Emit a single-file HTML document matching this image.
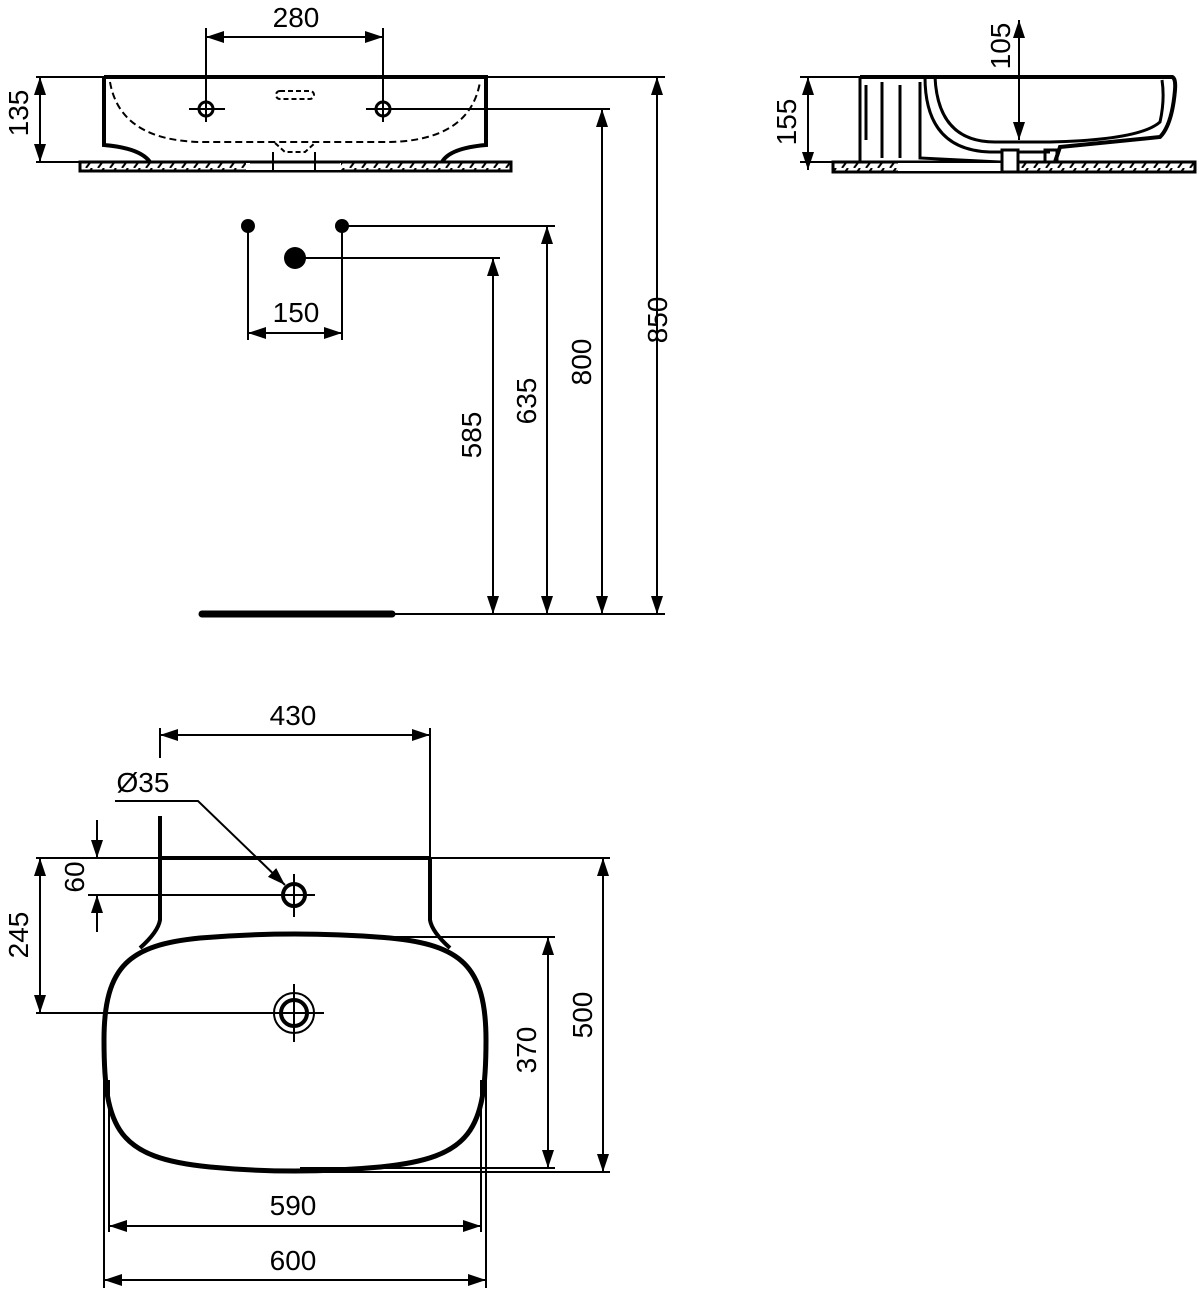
<!DOCTYPE html>
<html><head><meta charset="utf-8"><style>
html,body{margin:0;padding:0;background:#fff;}
svg{display:block}
text{font-family:"Liberation Sans",sans-serif;font-size:28px;fill:#000;}
</style></head><body>
<svg width="1200" height="1290" viewBox="0 0 1200 1290" xmlns="http://www.w3.org/2000/svg">
<defs>
<marker id="a" viewBox="0 0 18 12" refX="18" refY="6" markerWidth="18" markerHeight="12" markerUnits="userSpaceOnUse" orient="auto-start-reverse">
<path d="M0,0 L18,6 L0,12 Z" fill="#000"/></marker>
<pattern id="h" width="12" height="8" patternUnits="userSpaceOnUse">
<rect width="12" height="8" fill="#fff"/><path d="M2,8 L8,0" stroke="#000" stroke-width="2"/></pattern>
</defs>
<g stroke="#000" fill="none" stroke-width="2">
<!-- TOP FRONT VIEW -->
<line x1="36" y1="77" x2="104" y2="77"/>
<line x1="486" y1="77" x2="665" y2="77"/>
<line x1="36" y1="162" x2="80" y2="162"/>
<path d="M104,77 L486,77 L486,145 Q450,148 442,162 M104,77 L104,145 Q140,148 150,162" stroke-width="4"/>
<path d="M110,82 Q120,140 200,142 L390,142 Q470,140 480,82" stroke-dasharray="7,4" stroke-width="2"/>
<path d="M275,143 L285,152 L305,152 L315,143" stroke-dasharray="5,3"/>
<rect x="276" y="91" width="38" height="8" rx="4" stroke-dasharray="5,3"/>
<rect x="80" y="162" width="431" height="9" fill="url(#h)" stroke-width="3"/>
<rect x="246" y="163" width="95" height="7" fill="#fff" stroke="none"/>
<line x1="273" y1="152" x2="273" y2="171"/><line x1="315" y1="152" x2="315" y2="171"/>
<line x1="250" y1="162" x2="340" y2="162" stroke-width="3"/>
<circle cx="206" cy="109" r="7" stroke-width="3"/><circle cx="383" cy="109" r="7" stroke-width="3"/>
<line x1="189" y1="109" x2="225" y2="109"/><line x1="366" y1="109" x2="610" y2="109"/>
<line x1="206" y1="28" x2="206" y2="122"/><line x1="383" y1="28" x2="383" y2="122"/>
<line x1="206" y1="37" x2="383" y2="37" marker-start="url(#a)" marker-end="url(#a)"/>
<line x1="40" y1="77" x2="40" y2="162" marker-start="url(#a)" marker-end="url(#a)"/>
<line x1="657" y1="77" x2="657" y2="614" marker-start="url(#a)" marker-end="url(#a)"/>
<line x1="602" y1="109" x2="602" y2="614" marker-start="url(#a)" marker-end="url(#a)"/>
<line x1="547" y1="226" x2="547" y2="614" marker-start="url(#a)" marker-end="url(#a)"/>
<line x1="493" y1="258" x2="493" y2="614" marker-start="url(#a)" marker-end="url(#a)"/>
<line x1="342" y1="226" x2="555" y2="226"/>
<line x1="295" y1="258" x2="500" y2="258"/>
<line x1="248" y1="226" x2="248" y2="340"/><line x1="342" y1="226" x2="342" y2="340"/>
<line x1="248" y1="333" x2="342" y2="333" marker-start="url(#a)" marker-end="url(#a)"/>
<line x1="390" y1="614" x2="665" y2="614"/>
<line x1="202" y1="614" x2="392" y2="614" stroke-width="7" stroke-linecap="round"/>
<!-- SIDE VIEW -->
<line x1="800" y1="77" x2="860" y2="77"/>
<line x1="800" y1="162" x2="835" y2="162"/>
<line x1="808" y1="77" x2="808" y2="170" marker-start="url(#a)" marker-end="url(#a)"/>
<path d="M860,77 L1172,77 Q1176,78 1175,90 Q1172,125 1160,137 L1060,147 L1055,162" stroke-width="4"/>
<path d="M935,77 Q938,142 995,142 L1050,142 Q1140,140 1160,122 Q1165,100 1162,80" stroke-width="3"/>
<path d="M925,77 Q925,150 990,152 L1050,152" stroke-width="3"/>
<path d="M860,77 L860,162 M866,85 L866,140 M882,82 L882,158 M900,85 L900,158 M920,82 L920,158 L1000,162" stroke-width="3"/>
<rect x="833" y="162" width="362" height="10" fill="url(#h)" stroke-width="3"/>
<rect x="898" y="163" width="120" height="8" fill="#fff" stroke="none"/>
<rect x="1002" y="150" width="16" height="22" fill="#fff" stroke-width="3"/>
<rect x="1045" y="150" width="12" height="12" stroke-width="3"/>
<line x1="1019" y1="20" x2="1019" y2="140" marker-start="url(#a)" marker-end="url(#a)"/>
<!-- PLAN VIEW -->
<line x1="160" y1="728" x2="160" y2="758"/>
<line x1="430" y1="728" x2="430" y2="858"/>
<line x1="160" y1="735" x2="430" y2="735" marker-start="url(#a)" marker-end="url(#a)"/>
<line x1="36" y1="858" x2="610" y2="858"/>
<line x1="160" y1="858" x2="430" y2="858" stroke-width="4"/>
<path d="M160,816 L160,920 Q158,932 140,948 M430,858 L430,920 Q432,932 450,948" stroke-width="4"/>
<path d="M115,801 L198,801 L285,885" marker-end="url(#a)"/>
<line x1="97" y1="820" x2="97" y2="858" marker-end="url(#a)"/>
<line x1="97" y1="932" x2="97" y2="895" marker-end="url(#a)"/>
<line x1="88" y1="895" x2="315" y2="895"/>
<circle cx="294" cy="895" r="11" stroke-width="4"/>
<line x1="294" y1="874" x2="294" y2="917"/>
<line x1="40" y1="1013" x2="40" y2="858" marker-end="url(#a)"/>
<line x1="40" y1="858" x2="40" y2="1013" marker-end="url(#a)"/>
<line x1="36" y1="1013" x2="324" y2="1013"/>
<path d="M104,1040 C104,965 130,945 200,938 Q295,930 390,938 C460,945 486,965 486,1040 C486,1130 472,1158 380,1167 Q295,1175 210,1167 C118,1158 104,1130 104,1040 Z" stroke-width="5"/>
<circle cx="294" cy="1013" r="20" stroke-width="2"/>
<circle cx="294" cy="1013" r="13" stroke-width="4"/>
<line x1="294" y1="984" x2="294" y2="1042"/>
<line x1="390" y1="937" x2="555" y2="937"/>
<line x1="300" y1="1168" x2="555" y2="1168"/>
<line x1="300" y1="1172" x2="610" y2="1172"/>
<line x1="548" y1="937" x2="548" y2="1168" marker-start="url(#a)" marker-end="url(#a)"/>
<line x1="603" y1="858" x2="603" y2="1172" marker-start="url(#a)" marker-end="url(#a)"/>
<line x1="104" y1="1060" x2="104" y2="1288"/><line x1="486" y1="1060" x2="486" y2="1288"/>
<line x1="109" y1="1080" x2="109" y2="1232"/><line x1="481" y1="1080" x2="481" y2="1232"/>
<line x1="109" y1="1226" x2="481" y2="1226" marker-start="url(#a)" marker-end="url(#a)"/>
<line x1="104" y1="1280" x2="486" y2="1280" marker-start="url(#a)" marker-end="url(#a)"/>
</g>
<circle cx="248" cy="226" r="7"/><circle cx="342" cy="226" r="7"/><circle cx="295" cy="258" r="11"/>
<g text-anchor="middle">
<text x="296" y="27">280</text>
<text x="296" y="322">150</text>
<text x="293" y="725">430</text>
<text x="143" y="792">Ø35</text>
<text x="293" y="1215">590</text>
<text x="293" y="1270">600</text>
<text transform="translate(28,113) rotate(-90)">135</text>
<text transform="translate(667,320) rotate(-90)">850</text>
<text transform="translate(591,362) rotate(-90)">800</text>
<text transform="translate(536,401) rotate(-90)">635</text>
<text transform="translate(481,435) rotate(-90)">585</text>
<text transform="translate(796,122) rotate(-90)">155</text>
<text transform="translate(1010,46) rotate(-90)">105</text>
<text transform="translate(84,877) rotate(-90)">60</text>
<text transform="translate(28,935) rotate(-90)">245</text>
<text transform="translate(536,1050) rotate(-90)">370</text>
<text transform="translate(592,1015) rotate(-90)">500</text>
</g>
</svg>
</body></html>
